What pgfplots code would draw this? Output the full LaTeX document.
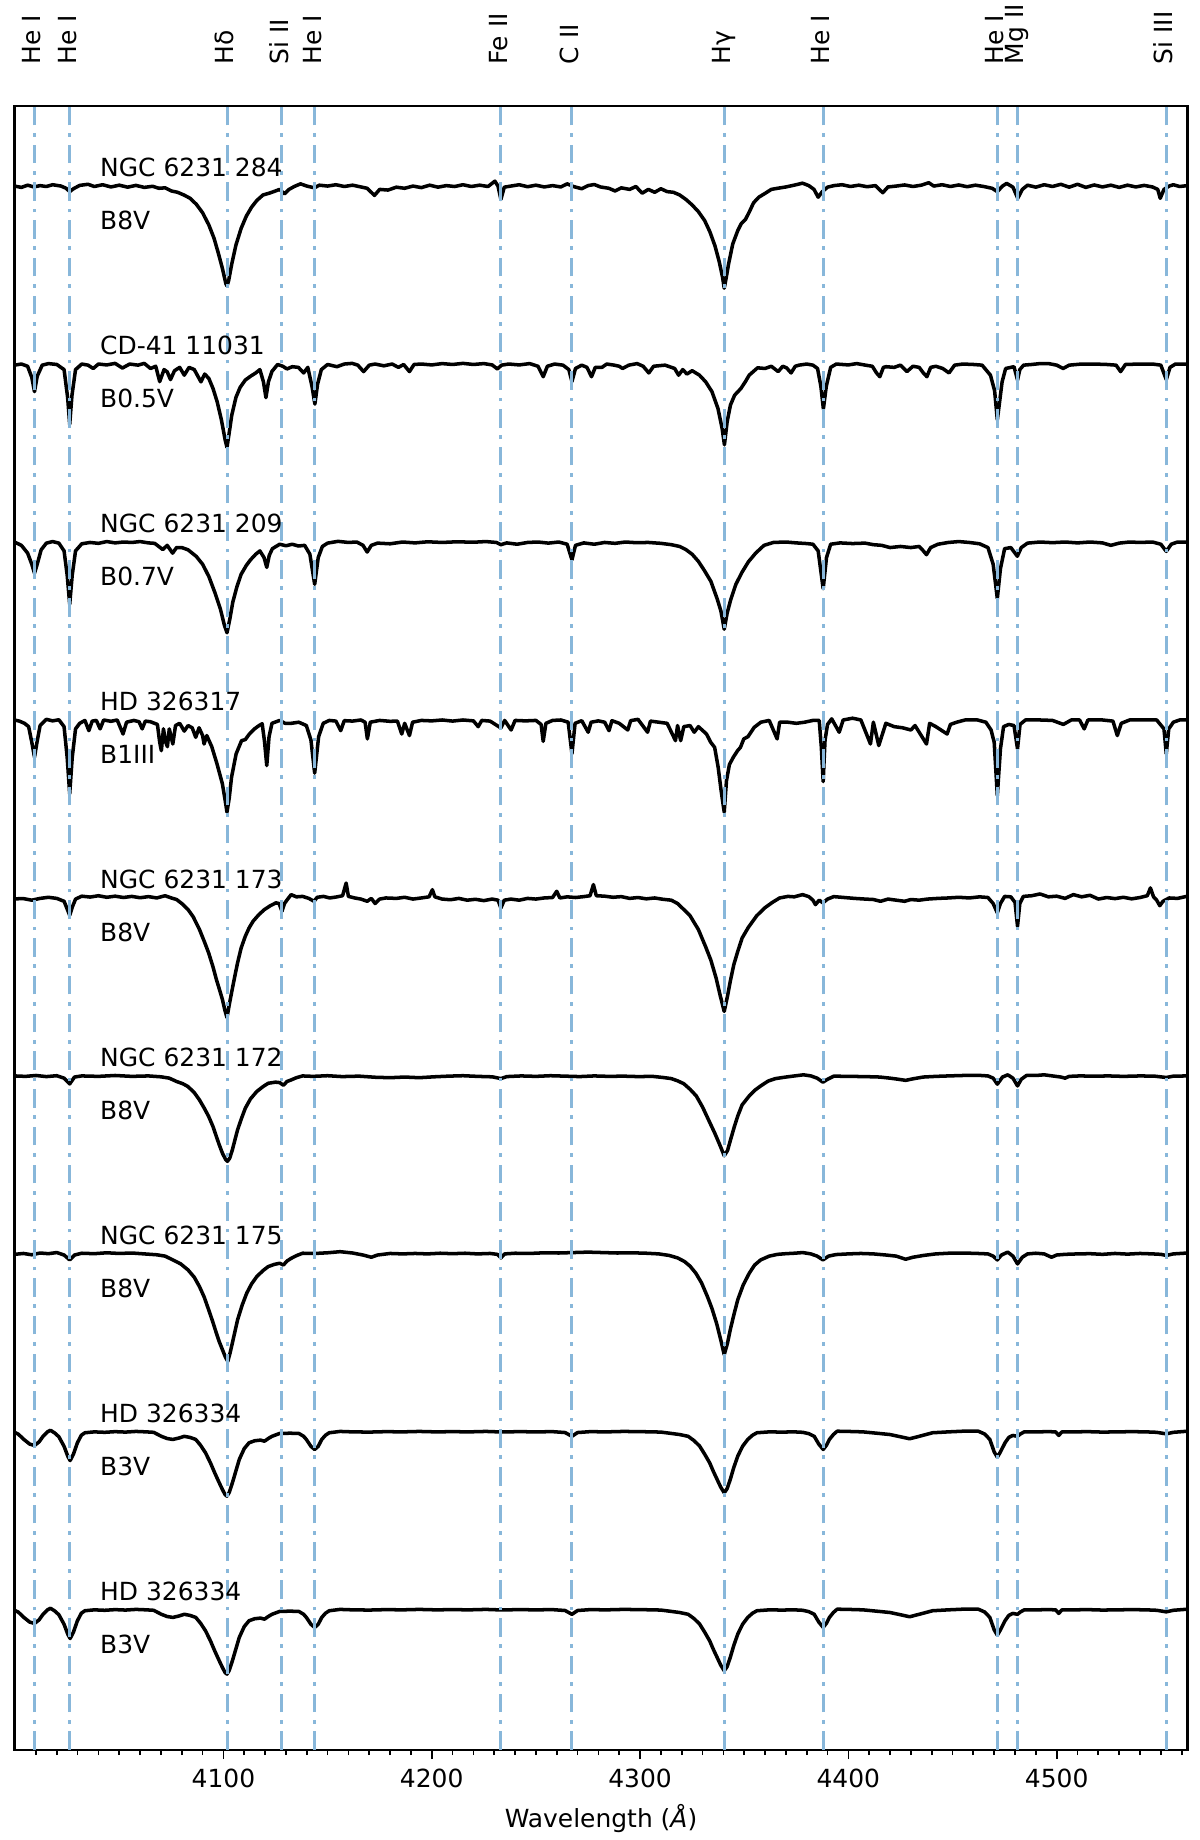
\documentclass[border=0pt]{standalone}
\usepackage{fontspec}
\setmainfont{DejaVu Sans}
\setsansfont{DejaVu Sans}
\usepackage{pgfplots}
\usepackage{pgfplotstable}
\pgfplotsset{compat=1.18}

\definecolor{linecol}{RGB}{136,183,218}

\tikzset{
  spec/.style={black, line width=1.0pt, line join=round},
  vline/.style={linecol, line width=0.85pt, dash pattern=on 5.3pt off 2.2pt on 1.05pt off 2.2pt},
  lbl/.style={font=\fontsize{7.1pt}{8.5pt}\selectfont, inner sep=0pt, anchor=west},
  toplbl/.style={font=\fontsize{7.1pt}{8.5pt}\selectfont, inner sep=0pt, rotate=90, anchor=west, text height=0.76em, text depth=0.24em},
}

% normalised spectra (wavelength in A, flux)
\pgfplotstableread[row sep=\\]{
wl f\\
3999.7 1.000\\ 4003 0.994\\ 4006 1.004\\ 4009 0.996\\ 4012 1.002\\ 4015 0.998\\ 4018 1.006\\ 4022 1.000\\
4024.5 0.990\\ 4026.2 0.975\\ 4028 0.988\\ 4031 1.003\\ 4035 1.008\\ 4038 0.998\\ 4042 1.006\\ 4046 0.996\\
4050 1.004\\ 4054 0.995\\ 4058 1.003\\ 4062 0.994\\ 4066 0.999\\ 4069 0.990\\ 4072 0.992\\ 4075 0.978\\
4078 0.972\\ 4081 0.960\\ 4084 0.945\\ 4087 0.918\\ 4090 0.880\\ 4093 0.825\\ 4095.5 0.765\\ 4097.5 0.700\\
4099.5 0.630\\ 4101.2 0.560\\ 4101.7 0.551\\ 4102.5 0.575\\ 4104 0.650\\ 4106 0.735\\ 4108.5 0.810\\ 4111 0.865\\
4113.5 0.905\\ 4116 0.935\\ 4119 0.960\\ 4122 0.968\\ 4125 0.978\\ 4127 0.985\\ 4129.3 0.965\\ 4131.5 0.985\\
4134 0.998\\ 4137 1.010\\ 4140 1.000\\ 4143.7 0.992\\ 4146 1.004\\ 4150 1.000\\ 4154 1.006\\ 4158 0.998\\
4162 1.004\\ 4166 0.996\\ 4169 0.990\\ 4172.5 0.958\\ 4175 0.985\\ 4179 0.982\\ 4183 0.995\\ 4187 0.990\\
4191 1.000\\ 4195 0.993\\ 4199 1.004\\ 4203 0.995\\ 4207 1.002\\ 4211 0.998\\ 4215 1.006\\ 4219 0.998\\
4223 1.004\\ 4227 0.998\\ 4230.3 1.022\\ 4231.8 1.000\\ 4233.2 0.940\\ 4234.8 0.995\\ 4238 1.000\\ 4242 1.006\\
4246 0.997\\ 4250 1.004\\ 4254 0.996\\ 4258 1.002\\ 4262 0.996\\ 4265 1.010\\ 4268 0.998\\ 4272 0.988\\
4275 1.002\\ 4278 1.007\\ 4281 0.996\\ 4285 0.990\\ 4288 0.978\\ 4291 0.992\\ 4295 0.985\\ 4298 0.998\\
4301 0.968\\ 4304 0.985\\ 4307 0.972\\ 4310 0.988\\ 4313 0.975\\ 4316 0.972\\ 4319 0.960\\ 4322 0.940\\
4325 0.915\\ 4328 0.885\\ 4331 0.845\\ 4333.5 0.795\\ 4336 0.730\\ 4338 0.660\\ 4339.6 0.590\\ 4340.4 0.541\\
4341.2 0.580\\ 4342.5 0.650\\ 4344.5 0.740\\ 4346.9 0.800\\ 4348.5 0.830\\ 4350.6 0.850\\ 4352.5 0.885\\ 4354.5 0.925\\
4357 0.950\\ 4360 0.967\\ 4363 0.985\\ 4366 0.990\\ 4370 0.996\\ 4374 1.004\\ 4378 1.013\\ 4381 1.002\\
4383.5 0.985\\ 4385.5 0.950\\ 4387.5 0.975\\ 4390 0.995\\ 4393 1.002\\ 4397 1.006\\ 4401 0.998\\ 4405 1.004\\
4409 0.997\\ 4413 1.002\\ 4416.5 0.970\\ 4419 0.996\\ 4423 1.000\\ 4427 1.005\\ 4431 0.998\\ 4435 1.004\\
4438.6 1.015\\ 4441 1.000\\ 4445 1.006\\ 4449 0.998\\ 4453 1.005\\ 4457 0.997\\ 4461 1.004\\ 4465 0.998\\
4469 0.990\\ 4471.5 0.975\\ 4474 1.000\\ 4476 1.012\\ 4479 0.995\\ 4481.3 0.945\\ 4483.5 0.985\\ 4486 1.004\\
4490 0.995\\ 4494 1.006\\ 4498 0.998\\ 4502 1.008\\ 4506 0.995\\ 4510 1.008\\ 4514 0.994\\ 4518 1.005\\
4522 0.996\\ 4526 1.004\\ 4530 0.994\\ 4534 1.004\\ 4538 0.996\\ 4542 1.003\\ 4546 0.996\\ 4548.5 0.985\\
4549.7 0.945\\ 4551.5 0.985\\ 4554 1.000\\ 4556 1.006\\ 4559 0.998\\ 4562.8 1.002\\
}\sA

\pgfplotstableread[row sep=\\]{
wl f\\
3999.7 0.995\\ 4003 1.000\\ 4006 0.990\\ 4008 0.940\\ 4009.3 0.876\\ 4010.6 0.945\\ 4013 0.995\\ 4016 1.002\\
4020 0.998\\ 4023.5 0.975\\ 4025.2 0.850\\ 4026.2 0.729\\ 4027.3 0.860\\ 4029 0.975\\ 4032 1.000\\ 4035 0.995\\
4037.5 0.980\\ 4040 1.000\\ 4044 0.996\\ 4048 1.003\\ 4051.5 0.982\\ 4055 1.000\\ 4059 0.995\\ 4062 1.003\\
4065 0.980\\ 4067.5 0.990\\ 4069.4 0.921\\ 4071.5 0.975\\ 4073 0.965\\ 4074.6 0.930\\ 4076.5 0.970\\ 4079 0.985\\
4081.2 0.950\\ 4083.5 0.985\\ 4086 0.975\\ 4089.2 0.920\\ 4091 0.955\\ 4093 0.935\\ 4095 0.890\\ 4097 0.830\\
4099 0.750\\ 4100.8 0.660\\ 4101.7 0.625\\ 4102.6 0.680\\ 4104 0.770\\ 4106 0.850\\ 4108 0.895\\ 4110.5 0.928\\
4113 0.945\\ 4115.5 0.960\\ 4117.5 0.975\\ 4119.2 0.920\\ 4120.4 0.849\\ 4121.6 0.920\\ 4123.3 0.967\\ 4126 0.998\\
4128.5 0.990\\ 4130.5 0.978\\ 4133 0.988\\ 4136 0.985\\ 4138.5 0.960\\ 4140.5 0.985\\ 4142.5 0.900\\ 4143.9 0.820\\
4145.2 0.910\\ 4147 0.975\\ 4150 0.998\\ 4154.5 0.988\\ 4158 1.000\\ 4161.8 1.003\\ 4164.5 0.995\\ 4167.3 0.966\\
4170 0.995\\ 4172.8 1.000\\ 4177 0.992\\ 4181 1.000\\ 4184 0.985\\ 4186.5 0.998\\ 4189.3 0.966\\ 4191.5 0.998\\
4195 1.000\\ 4200 0.996\\ 4205 1.002\\ 4210 0.998\\ 4215 1.003\\ 4220 0.998\\ 4225 1.002\\ 4229 0.996\\
4231.5 0.978\\ 4233.5 0.995\\ 4237 1.000\\ 4242 0.996\\ 4247 1.002\\ 4251 0.990\\ 4253.5 0.943\\ 4255.5 0.990\\
4259 1.000\\ 4263 0.995\\ 4265.8 0.975\\ 4267.3 0.921\\ 4269 0.980\\ 4272 0.995\\ 4274.5 0.985\\ 4276.7 0.943\\
4278.5 0.985\\ 4281.7 0.985\\ 4284 1.000\\ 4287.6 0.995\\ 4290 0.990\\ 4291.6 0.980\\ 4294.6 0.995\\ 4298.6 1.002\\
4301.5 0.990\\ 4304.2 0.960\\ 4306.5 0.990\\ 4308.6 0.992\\ 4312 0.995\\ 4316.6 0.980\\ 4318.5 0.950\\ 4320.5 0.975\\
4322.5 0.955\\ 4325 0.970\\ 4328.5 0.950\\ 4331.5 0.920\\ 4334.5 0.876\\ 4337.4 0.800\\ 4339.4 0.710\\ 4340.5 0.637\\
4341.8 0.740\\ 4343.4 0.816\\ 4345.4 0.860\\ 4348.4 0.890\\ 4350.5 0.920\\ 4352.4 0.950\\ 4356.4 0.983\\ 4360 0.980\\
4363 0.990\\ 4366.3 0.966\\ 4368.5 0.990\\ 4370.3 0.983\\ 4372.5 0.960\\ 4374.5 0.990\\ 4376.3 0.995\\ 4380 1.000\\
4383 0.995\\ 4385.2 0.980\\ 4386.8 0.900\\ 4388 0.798\\ 4389.4 0.900\\ 4391.5 0.985\\ 4394.2 1.000\\ 4400 0.996\\
4404 1.002\\ 4408.2 0.995\\ 4411.5 0.990\\ 4413.5 0.960\\ 4415.1 0.943\\ 4416.8 0.985\\ 4418.1 0.988\\ 4422 0.985\\
4425 0.995\\ 4428.1 0.966\\ 4431 0.990\\ 4434 0.985\\ 4436 0.960\\ 4437.7 0.943\\ 4439.5 0.985\\ 4442 0.990\\
4445.3 0.980\\ 4448.3 0.960\\ 4451 0.995\\ 4455 1.000\\ 4460 0.998\\ 4464.2 0.995\\ 4468.2 0.950\\ 4470.2 0.880\\
4471.5 0.749\\ 4472.6 0.830\\ 4473.8 0.920\\ 4475.5 0.980\\ 4479.5 0.988\\ 4480.3 0.960\\ 4481.2 0.928\\ 4482.3 0.975\\
4484.1 0.995\\ 4488 0.998\\ 4492 1.002\\ 4496.1 1.002\\ 4500 0.995\\ 4503.1 0.980\\ 4506 0.995\\ 4512 1.000\\
4518 1.000\\ 4524 0.998\\ 4528.5 0.995\\ 4530.7 0.966\\ 4533 0.998\\ 4540 1.000\\ 4546 1.000\\ 4550 0.995\\
4552.6 0.930\\ 4554.4 0.985\\ 4557 1.000\\ 4562.8 1.000\\
}\sB

\pgfplotstableread[row sep=\\]{
wl f\\
3999.7 1.000\\ 4003 0.985\\ 4006 0.950\\ 4008 0.900\\ 4009.3 0.860\\ 4010.6 0.900\\ 4012.5 0.965\\ 4015 0.995\\
4018 1.002\\ 4021 0.995\\ 4023.5 0.960\\ 4025 0.850\\ 4026.2 0.720\\ 4027.4 0.850\\ 4029 0.960\\ 4032 0.992\\
4036 0.998\\ 4040 0.994\\ 4044 1.002\\ 4048 0.996\\ 4052 1.000\\ 4056 0.998\\ 4060 1.002\\ 4064 0.996\\
4067 0.994\\ 4070.9 0.966\\ 4073 0.985\\ 4075.6 0.950\\ 4077.5 0.975\\ 4080 0.975\\ 4083 0.965\\ 4087 0.935\\
4090 0.900\\ 4093 0.845\\ 4096 0.770\\ 4098.5 0.700\\ 4100.5 0.625\\ 4101.7 0.592\\ 4103 0.650\\ 4104.5 0.730\\
4106.5 0.800\\ 4108.5 0.855\\ 4111 0.895\\ 4113 0.920\\ 4115.5 0.945\\ 4117.5 0.960\\ 4119.5 0.930\\ 4120.8 0.886\\
4122 0.940\\ 4123.5 0.970\\ 4127 0.990\\ 4130 0.983\\ 4133 0.990\\ 4136 0.982\\ 4139 0.985\\ 4141.5 0.945\\
4143.8 0.810\\ 4145.5 0.930\\ 4147.5 0.980\\ 4150 0.995\\ 4155 1.003\\ 4160 0.998\\ 4164 1.000\\ 4167 0.985\\
4169 0.955\\ 4171 0.985\\ 4174 0.995\\ 4180 0.992\\ 4186 1.000\\ 4192 0.996\\ 4198 1.001\\ 4205 0.998\\
4212 1.001\\ 4220 0.999\\ 4226 1.002\\ 4231 0.998\\ 4233.2 0.988\\ 4236 0.996\\ 4241 0.990\\ 4246 0.998\\
4251 1.000\\ 4256 0.995\\ 4261 1.000\\ 4265 0.990\\ 4267.3 0.920\\ 4269 0.985\\ 4273 0.996\\ 4278 0.990\\
4283 0.998\\ 4288 0.994\\ 4293 1.000\\ 4298 0.997\\ 4304 0.998\\ 4310 0.994\\ 4315 0.988\\ 4319 0.980\\
4322 0.966\\ 4325 0.945\\ 4328 0.913\\ 4331 0.870\\ 4334 0.823\\ 4337 0.745\\ 4338.8 0.690\\ 4340.4 0.608\\
4341.8 0.680\\ 4343.5 0.740\\ 4346 0.810\\ 4349 0.865\\ 4352 0.911\\ 4355.5 0.950\\ 4359.5 0.985\\ 4364 0.998\\
4370 1.000\\ 4375 0.996\\ 4380 0.993\\ 4383 0.990\\ 4385.5 0.960\\ 4387.9 0.790\\ 4389.5 0.930\\ 4391.5 0.990\\
4396 0.996\\ 4402 0.993\\ 4408 0.995\\ 4412 0.988\\ 4416 0.985\\ 4420 0.975\\ 4425 0.980\\ 4430 0.975\\
4434 0.980\\ 4436 0.960\\ 4437.5 0.943\\ 4439.5 0.975\\ 4443 0.990\\ 4448 0.998\\ 4453 1.002\\ 4458 0.998\\
4463 0.992\\ 4467 0.975\\ 4469.5 0.900\\ 4471.5 0.746\\ 4473 0.880\\ 4475 0.970\\ 4478 0.975\\ 4481.1 0.936\\
4483 0.975\\ 4486 0.995\\ 4492 1.000\\ 4498 0.997\\ 4504 1.000\\ 4510 0.996\\ 4516 1.000\\ 4522 0.996\\
4526 0.985\\ 4530 0.995\\ 4535 1.000\\ 4540 0.998\\ 4546 1.000\\ 4550 0.990\\ 4552.6 0.958\\ 4555 0.990\\
4558 1.000\\ 4562.8 1.000\\
}\sC

\pgfplotstableread[row sep=\\]{
wl f\\
3999.7 1.000\\ 4002 0.995\\ 4004.5 0.985\\ 4006.5 0.970\\ 4008 0.900\\ 4009.3 0.833\\ 4010.5 0.900\\ 4012 0.975\\
4015 1.003\\ 4018 0.996\\ 4021 1.001\\ 4023.5 0.970\\ 4025 0.830\\ 4026.2 0.668\\ 4027.4 0.830\\ 4029 0.960\\
4031 0.985\\ 4033.5 0.998\\ 4035.4 0.952\\ 4037 0.995\\ 4039 0.998\\ 4040.8 0.960\\ 4042.5 1.000\\ 4046 0.994\\
4049 1.000\\ 4051.8 0.937\\ 4053.5 0.990\\ 4057 0.998\\ 4059.5 0.992\\ 4061 0.960\\ 4062.5 0.995\\ 4065 0.992\\
4068.3 0.980\\ 4069.4 0.900\\ 4070.2 0.862\\ 4071.2 0.960\\ 4072.3 0.900\\ 4073.1 0.880\\ 4074 0.960\\ 4075.7 0.892\\
4077 0.975\\ 4079 0.985\\ 4081.2 0.950\\ 4083 0.975\\ 4085 0.965\\ 4086.7 0.922\\ 4088.3 0.965\\ 4090 0.930\\
4090.7 0.892\\ 4092 0.930\\ 4094.4 0.880\\ 4096.9 0.803\\ 4099.5 0.713\\ 4100.8 0.640\\ 4101.7 0.586\\ 4102.8 0.650\\
4103.9 0.743\\ 4106.1 0.848\\ 4108.7 0.907\\ 4110.5 0.912\\ 4112.3 0.935\\ 4114.9 0.960\\ 4117.1 0.975\\ 4118.6 0.983\\
4119.7 0.905\\ 4120.8 0.795\\ 4121.9 0.925\\ 4123.3 0.985\\ 4127 0.998\\ 4129.6 0.985\\ 4132.5 0.985\\ 4136.2 0.990\\
4139.8 0.975\\ 4142 0.910\\ 4143.8 0.761\\ 4145.7 0.925\\ 4147.9 0.985\\ 4150.8 0.998\\ 4154 0.995\\ 4156.3 0.952\\
4158 0.997\\ 4162 0.995\\ 4166 1.000\\ 4168 0.990\\ 4169.1 0.915\\ 4170.5 0.990\\ 4175 0.998\\ 4180 0.994\\
4183.5 0.995\\ 4185.6 0.937\\ 4187 0.985\\ 4189.3 0.930\\ 4190.8 0.990\\ 4195 0.998\\ 4200 0.996\\ 4205 1.000\\
4210 0.995\\ 4215 1.000\\ 4220 0.996\\ 4222.3 0.970\\ 4224 0.998\\ 4228 0.995\\ 4233.2 0.964\\ 4235 0.998\\
4238.1 0.955\\ 4240 0.998\\ 4245 0.996\\ 4250 0.998\\ 4252.5 0.980\\ 4253.5 0.904\\ 4254.8 0.985\\ 4258 0.998\\
4262 1.000\\ 4265.5 0.990\\ 4267.3 0.848\\ 4268.8 0.985\\ 4272 0.997\\ 4275.1 0.945\\ 4276.5 0.990\\ 4280 0.996\\
4283 0.990\\ 4285.1 0.952\\ 4286.5 0.997\\ 4290 0.985\\ 4294.1 0.955\\ 4295.5 0.997\\ 4299 1.003\\ 4303.6 0.945\\
4305 0.995\\ 4309 0.990\\ 4313 0.985\\ 4317 0.907\\ 4318 0.975\\ 4319.5 0.907\\ 4321 0.970\\ 4324 0.975\\
4326 0.945\\ 4328 0.970\\ 4331.9 0.937\\ 4333.9 0.900\\ 4335.8 0.877\\ 4337.5 0.787\\ 4338.9 0.683\\ 4340.4 0.586\\
4341.5 0.728\\ 4342.9 0.800\\ 4344.8 0.833\\ 4346.8 0.862\\ 4348.2 0.877\\ 4349.8 0.915\\ 4351.8 0.925\\ 4354.8 0.967\\
4358 0.990\\ 4362 0.998\\ 4365.8 0.915\\ 4367 0.990\\ 4371 0.990\\ 4375 0.985\\ 4379 0.990\\ 4383 0.998\\
4386 0.998\\ 4387 0.880\\ 4387.9 0.723\\ 4388.8 0.910\\ 4390 0.980\\ 4392 1.005\\ 4395.6 0.945\\ 4397.5 1.000\\
4402 1.008\\ 4406 1.000\\ 4410.6 0.892\\ 4412 0.990\\ 4414.6 0.885\\ 4415.6 0.915\\ 4418 0.985\\ 4422 0.970\\
4426 0.965\\ 4430 0.955\\ 4432 0.975\\ 4437.5 0.892\\ 4439 0.985\\ 4442 0.970\\ 4447.4 0.937\\ 4449 0.980\\
4452 0.990\\ 4456 1.000\\ 4462 1.000\\ 4466 0.990\\ 4468.5 0.955\\ 4470 0.900\\ 4471.5 0.660\\ 4473 0.870\\
4474.5 0.970\\ 4477 0.980\\ 4479.5 0.975\\ 4481.2 0.870\\ 4482.4 0.980\\ 4485 1.000\\ 4492 1.000\\ 4498 0.998\\
4503.2 0.980\\ 4507 1.000\\ 4511 1.000\\ 4513.2 0.960\\ 4515 1.000\\ 4522 1.000\\ 4527 0.995\\ 4529.1 0.930\\
4531 0.985\\ 4535 1.000\\ 4542 1.000\\ 4548 1.000\\ 4551.5 0.960\\ 4552.6 0.848\\ 4553.8 0.960\\ 4556 0.990\\
4559 1.000\\ 4562.8 1.000\\
}\sD

\pgfplotstableread[row sep=\\]{
wl f\\
3999.7 0.996\\ 4004 0.997\\ 4008 0.990\\ 4012 0.998\\ 4016 1.003\\ 4020 0.998\\ 4023.5 0.985\\ 4025 0.950\\
4026.2 0.922\\ 4027.5 0.960\\ 4029 0.995\\ 4032 1.008\\ 4036 1.004\\ 4040 1.010\\ 4044 1.003\\ 4048 1.008\\
4052 1.002\\ 4056 1.007\\ 4060 1.001\\ 4064 1.006\\ 4068 1.000\\ 4072 1.010\\ 4075 1.000\\ 4077.5 0.993\\
4080 0.975\\ 4083 0.948\\ 4085.5 0.915\\ 4088.5 0.858\\ 4091 0.800\\ 4092.9 0.753\\ 4095 0.690\\ 4096.6 0.634\\
4098.2 0.585\\ 4099.5 0.544\\ 4100.7 0.495\\ 4101.7 0.462\\ 4102.8 0.520\\ 4103.9 0.574\\ 4105.5 0.650\\ 4106.8 0.709\\
4108.5 0.775\\ 4110.5 0.828\\ 4112.3 0.865\\ 4114.2 0.895\\ 4117 0.925\\ 4119.7 0.948\\ 4122.5 0.965\\ 4125.2 0.978\\
4126.7 0.975\\ 4128.1 0.940\\ 4129.3 0.975\\ 4130.7 0.993\\ 4132.5 1.015\\ 4135 1.005\\ 4138 1.007\\ 4141 0.998\\
4143.5 0.985\\ 4145 1.003\\ 4148 1.007\\ 4151 1.000\\ 4154 1.004\\ 4157.2 1.010\\ 4158.9 1.067\\ 4160 1.007\\
4163 1.000\\ 4166 0.995\\ 4169 0.985\\ 4171 0.998\\ 4172.8 0.975\\ 4175 0.995\\ 4178 1.000\\ 4183 0.998\\
4187 1.003\\ 4191 0.995\\ 4195 1.000\\ 4198.7 1.005\\ 4200.3 1.037\\ 4201.5 1.005\\ 4205 0.995\\ 4209 0.992\\
4213 0.998\\ 4217 0.990\\ 4221 0.994\\ 4225 0.988\\ 4229 0.995\\ 4231.8 0.990\\ 4233.2 0.955\\ 4234.8 0.990\\
4238 0.995\\ 4242 0.990\\ 4246 0.998\\ 4250 0.995\\ 4254 1.000\\ 4258 1.002\\ 4260 1.030\\ 4261.5 1.000\\
4265 1.005\\ 4269 1.002\\ 4273 1.006\\ 4276 1.010\\ 4277.6 1.060\\ 4279 1.010\\ 4283 1.008\\ 4287 1.003\\
4291 1.006\\ 4295 0.998\\ 4299 1.002\\ 4303 0.996\\ 4307 1.000\\ 4311 0.994\\ 4315 0.990\\ 4318 0.975\\
4321 0.948\\ 4324 0.920\\ 4328 0.858\\ 4331.5 0.780\\ 4334 0.720\\ 4336.5 0.640\\ 4338.5 0.560\\ 4340.4 0.490\\
4342 0.560\\ 4343.3 0.625\\ 4345 0.700\\ 4346.9 0.760\\ 4349 0.820\\ 4352 0.868\\ 4356 0.920\\ 4359.8 0.955\\
4363.5 0.980\\ 4367 1.000\\ 4371 1.007\\ 4374 1.005\\ 4378 1.015\\ 4381 1.006\\ 4383 0.990\\ 4384.2 0.970\\
4386 0.990\\ 4387.8 0.978\\ 4390 0.995\\ 4393 1.006\\ 4398 1.002\\ 4403 0.998\\ 4408 0.995\\ 4412 0.993\\
4415.5 0.985\\ 4419 0.995\\ 4423 0.990\\ 4427 0.985\\ 4430 0.993\\ 4434 0.990\\ 4438 0.995\\ 4443 0.998\\
4448 1.000\\ 4453 1.003\\ 4458 1.000\\ 4463 1.005\\ 4467 1.002\\ 4469.5 0.975\\ 4471.5 0.933\\ 4473 0.975\\
4475 1.007\\ 4478 1.005\\ 4480 0.980\\ 4481.2 0.873\\ 4482.3 0.975\\ 4484 1.007\\ 4488 1.010\\ 4492 1.018\\
4496 1.005\\ 4500 1.008\\ 4504 0.998\\ 4508 1.015\\ 4512 1.005\\ 4516 1.012\\ 4520 0.995\\ 4524 1.002\\
4528 0.997\\ 4532 1.003\\ 4536 0.996\\ 4540 1.002\\ 4543.5 1.010\\ 4545 1.045\\ 4546.5 1.005\\ 4548 0.990\\
4549.5 0.965\\ 4551 0.985\\ 4554 1.000\\ 4558 0.998\\ 4562.8 1.008\\
}\sE

\pgfplotstableread[row sep=\\]{
wl f\\
3999.7 1.000\\ 4005 0.998\\ 4010 1.002\\ 4015 0.997\\ 4020 1.001\\ 4023.5 0.990\\ 4026.2 0.964\\ 4028.5 0.995\\
4032 1.000\\ 4040 0.998\\ 4048 1.002\\ 4056 0.998\\ 4064 1.000\\ 4070 0.996\\ 4074 0.990\\ 4077.5 0.975\\
4080.5 0.965\\ 4083 0.952\\ 4086 0.925\\ 4088.5 0.892\\ 4090.8 0.855\\ 4092.9 0.818\\ 4095 0.772\\ 4096.6 0.728\\
4098 0.690\\ 4099.5 0.653\\ 4101 0.625\\ 4101.9 0.616\\ 4103 0.630\\ 4104.3 0.668\\ 4105.5 0.712\\ 4106.8 0.758\\
4108.7 0.810\\ 4110.5 0.855\\ 4113 0.897\\ 4116 0.930\\ 4119 0.952\\ 4121.5 0.967\\ 4125 0.972\\ 4127 0.970\\
4128.8 0.958\\ 4130.5 0.975\\ 4132.5 0.982\\ 4135 0.992\\ 4138 1.000\\ 4143 0.998\\ 4150 1.001\\ 4157 0.997\\
4165 0.999\\ 4173 0.994\\ 4180 0.992\\ 4187 0.995\\ 4194 0.992\\ 4201 0.996\\ 4208 0.999\\ 4215 1.001\\
4222 0.998\\ 4229 0.996\\ 4233.2 0.988\\ 4236 0.997\\ 4243 1.000\\ 4250 0.998\\ 4257 1.001\\ 4264 0.999\\
4271 0.997\\ 4278 1.000\\ 4285 0.998\\ 4292 0.999\\ 4299 0.997\\ 4306 0.998\\ 4311 0.993\\ 4315 0.988\\
4318 0.978\\ 4321 0.965\\ 4324 0.940\\ 4327 0.910\\ 4330 0.860\\ 4333 0.800\\ 4336 0.740\\ 4338.5 0.685\\
4340.4 0.641\\ 4342 0.665\\ 4343.5 0.715\\ 4345.2 0.770\\ 4346.9 0.820\\ 4349 0.870\\ 4352.4 0.910\\ 4355 0.935\\
4357.9 0.955\\ 4361.5 0.977\\ 4365 0.988\\ 4370 0.995\\ 4375 1.001\\ 4378.5 1.005\\ 4382 1.000\\ 4385 0.990\\
4387.8 0.972\\ 4390 0.985\\ 4393 0.999\\ 4400 0.998\\ 4408 0.997\\ 4415 0.995\\ 4420 0.990\\ 4424 0.985\\
4427.5 0.980\\ 4431 0.987\\ 4436 0.995\\ 4442 0.998\\ 4448 1.000\\ 4455 1.002\\ 4462 1.003\\ 4467 1.000\\
4469.5 0.990\\ 4471.5 0.963\\ 4474 0.995\\ 4476.5 1.005\\ 4479 0.990\\ 4481.2 0.955\\ 4483 0.985\\ 4485.5 1.002\\
4490 1.002\\ 4494 1.005\\ 4498 1.000\\ 4502 0.995\\ 4504 0.990\\ 4506 0.998\\ 4511 1.000\\ 4518 0.999\\
4525 1.000\\ 4532 0.998\\ 4540 1.000\\ 4547 0.999\\ 4552.6 0.993\\ 4556 0.999\\ 4562.8 1.000\\
}\sF

\pgfplotstableread[row sep=\\]{
wl f\\
3999.7 0.998\\ 4004 1.002\\ 4008 0.996\\ 4012 1.004\\ 4016 1.001\\ 4020 1.006\\ 4023.5 0.995\\ 4026.2 0.973\\
4028.5 0.995\\ 4032 1.003\\ 4038 1.001\\ 4044 1.005\\ 4050 1.002\\ 4056 1.004\\ 4062 1.000\\ 4068 0.996\\
4072 0.990\\ 4075.7 0.973\\ 4079.5 0.955\\ 4083 0.928\\ 4086 0.895\\ 4088.5 0.853\\ 4090.8 0.805\\ 4092.9 0.749\\
4094.8 0.697\\ 4096.6 0.644\\ 4098 0.605\\ 4099.5 0.570\\ 4101 0.535\\ 4102.1 0.517\\ 4103.2 0.555\\ 4104.3 0.600\\
4105.5 0.650\\ 4106.8 0.704\\ 4109 0.770\\ 4111.2 0.824\\ 4113.5 0.865\\ 4116 0.898\\ 4119 0.925\\ 4121.5 0.943\\
4124.5 0.953\\ 4127 0.958\\ 4128.8 0.950\\ 4130.5 0.968\\ 4132.5 0.980\\ 4135 0.992\\ 4138 1.003\\ 4144 1.002\\
4150 1.005\\ 4156 1.010\\ 4162 1.004\\ 4167 0.995\\ 4171 0.985\\ 4174 0.995\\ 4180 1.002\\ 4186 1.000\\
4192 1.002\\ 4198 1.000\\ 4204 1.003\\ 4210 1.001\\ 4216 1.003\\ 4222 1.000\\ 4228 1.002\\ 4231.5 0.998\\
4233.2 0.982\\ 4235 1.000\\ 4240 1.003\\ 4247 1.002\\ 4254 1.005\\ 4261 1.004\\ 4268 1.006\\ 4275 1.008\\
4282 1.006\\ 4289 1.004\\ 4296 1.005\\ 4303 1.003\\ 4309 1.000\\ 4314 0.993\\ 4318 0.982\\ 4321.3 0.966\\
4324 0.945\\ 4326.8 0.913\\ 4329.5 0.870\\ 4332.3 0.809\\ 4334.5 0.755\\ 4336.7 0.689\\ 4338.7 0.615\\ 4340.4 0.547\\
4342 0.600\\ 4343.3 0.659\\ 4345 0.725\\ 4346.9 0.794\\ 4349.5 0.860\\ 4352.4 0.913\\ 4355 0.950\\ 4357.9 0.973\\
4362 0.990\\ 4366 0.998\\ 4370 1.001\\ 4374 1.003\\ 4378.1 1.006\\ 4382 1.000\\ 4385 0.990\\ 4387.8 0.973\\
4390.5 0.990\\ 4394 0.997\\ 4400 1.000\\ 4406 1.002\\ 4412 1.000\\ 4418 0.995\\ 4423 0.990\\ 4427.5 0.976\\
4431 0.985\\ 4436 0.993\\ 4442 1.000\\ 4448 1.003\\ 4455 1.004\\ 4462 1.002\\ 4467 1.000\\ 4469.5 0.990\\
4471.5 0.973\\ 4473.5 0.995\\ 4476.5 1.008\\ 4479 0.990\\ 4481.2 0.955\\ 4483.5 0.985\\ 4486 1.000\\ 4490 1.003\\
4494 1.000\\ 4497.5 0.985\\ 4500 0.995\\ 4504 0.998\\ 4510 1.000\\ 4516 1.001\\ 4522 0.998\\ 4528 1.002\\
4534 0.999\\ 4540 1.002\\ 4546 1.000\\ 4550 0.998\\ 4552.6 0.993\\ 4556 1.000\\ 4562.8 1.004\\
}\sG

\pgfplotstableread[row sep=\\]{
wl f\\
3999.7 0.998\\ 4001.5 0.990\\ 4004.2 0.966\\ 4007 0.945\\ 4009.3 0.939\\ 4011.5 0.955\\ 4013.4 0.980\\ 4015.5 1.000\\
4017 1.007\\ 4019 0.995\\ 4021 0.978\\ 4023.5 0.935\\ 4025.3 0.890\\ 4026.4 0.871\\ 4028 0.900\\ 4029.9 0.951\\
4031.8 0.985\\ 4033.5 0.996\\ 4038 1.000\\ 4043 0.998\\ 4048 1.001\\ 4053 0.999\\ 4058 1.002\\ 4063 1.000\\
4066.5 0.998\\ 4070.2 0.980\\ 4073 0.970\\ 4075.7 0.966\\ 4078.5 0.972\\ 4081.2 0.980\\ 4084 0.975\\ 4086.7 0.966\\
4089 0.940\\ 4091.4 0.906\\ 4093.8 0.860\\ 4095.8 0.816\\ 4097.8 0.775\\ 4099.5 0.741\\ 4100.8 0.718\\ 4101.7 0.711\\
4102.8 0.728\\ 4104.3 0.771\\ 4106 0.825\\ 4107.6 0.876\\ 4110 0.925\\ 4112.3 0.951\\ 4115 0.960\\ 4117.8 0.963\\
4119.7 0.958\\ 4121.5 0.970\\ 4123.3 0.980\\ 4127 0.993\\ 4132 0.994\\ 4136.2 0.993\\ 4138.5 0.980\\ 4139.8 0.966\\
4142 0.935\\ 4143.8 0.921\\ 4145.5 0.935\\ 4147.2 0.966\\ 4149 0.985\\ 4150.8 0.996\\ 4156 1.002\\ 4162 1.000\\
4170 0.999\\ 4178 1.001\\ 4186 1.000\\ 4194 1.002\\ 4202 1.000\\ 4210 1.001\\ 4218 1.000\\ 4226 1.002\\
4232 1.000\\ 4236 1.000\\ 4242 1.001\\ 4250 1.000\\ 4258 1.001\\ 4264 0.997\\ 4267.3 0.980\\ 4270 0.997\\
4276 1.001\\ 4284 1.000\\ 4292 1.002\\ 4300 1.001\\ 4306 1.000\\ 4310 0.999\\ 4315 0.993\\ 4319 0.988\\
4323.1 0.980\\ 4326 0.960\\ 4328.6 0.936\\ 4331 0.900\\ 4333.4 0.861\\ 4335.2 0.822\\ 4337 0.786\\ 4338.7 0.752\\
4340.4 0.726\\ 4341.8 0.745\\ 4343.3 0.786\\ 4345 0.840\\ 4346.9 0.891\\ 4349.2 0.935\\ 4351.7 0.966\\ 4354 0.985\\
4356.1 0.996\\ 4362 1.000\\ 4368 0.999\\ 4374 1.000\\ 4378.1 0.998\\ 4381 0.992\\ 4383.6 0.980\\ 4385.8 0.945\\
4387.9 0.921\\ 4389.5 0.940\\ 4390.9 0.966\\ 4392.8 0.988\\ 4394.6 1.003\\ 4400 1.002\\ 4407 1.000\\ 4414.7 0.993\\
4420 0.988\\ 4425 0.978\\ 4429.4 0.969\\ 4434 0.980\\ 4440.4 0.996\\ 4448 1.000\\ 4455 1.003\\ 4462.4 1.003\\
4465.5 0.990\\ 4467.9 0.966\\ 4470 0.910\\ 4471.5 0.886\\ 4473 0.910\\ 4475.2 0.951\\ 4477 0.975\\ 4478.9 0.984\\
4481.2 0.980\\ 4482.5 0.990\\ 4484.4 1.000\\ 4490 1.000\\ 4496 1.001\\ 4499.5 1.000\\ 4501 0.984\\ 4502.5 1.000\\
4508 1.000\\ 4515 1.001\\ 4522 0.999\\ 4529 1.000\\ 4536 1.001\\ 4543 1.000\\ 4548 0.998\\ 4552.6 0.991\\
4556 0.998\\ 4562.8 1.003\\
}\sH

\begin{document}
\fontsize{7.1pt}{8.5pt}\selectfont
\begin{tikzpicture}
\begin{axis}[
    name=ax, at={(0,0)}, anchor=south west,
    scale only axis, width=11.73cm, height=16.44cm,
    xmin=3999.7, xmax=4562.8, ymin=-6.03, ymax=1.36,
    clip=false,
    axis line style={line width=0.6pt},
    xtick={4100,4200,4300,4400,4500},
    minor xtick={4010,4020,...,4560},
    ytick=\empty,
    xtick pos=lower, tick align=outside,
    major tick length=0.09cm, minor tick length=0.05cm,
    tick style={black, line width=0.5pt},
    /pgf/number format/assume math mode=true,
    /pgf/number format/1000 sep={},
    xticklabel style={font=\fontsize{7.1pt}{8.5pt}\selectfont, inner sep=0pt, yshift=-2.6pt},
    xlabel={Wavelength (\textit{Å})},
    xlabel style={at={(axis description cs:0.5,0)}, anchor=center, yshift=-0.69cm, inner sep=0pt},
]
% spectra, each shifted down by 0.8
\addplot[spec] table[x=wl, y expr=\thisrow{f}] {\sA};
\addplot[spec] table[x=wl, y expr=\thisrow{f}-0.8] {\sB};
\addplot[spec] table[x=wl, y expr=\thisrow{f}-1.6] {\sC};
\addplot[spec] table[x=wl, y expr=\thisrow{f}-2.4] {\sD};
\addplot[spec] table[x=wl, y expr=\thisrow{f}-3.2] {\sE};
\addplot[spec] table[x=wl, y expr=\thisrow{f}-4.0] {\sF};
\addplot[spec] table[x=wl, y expr=\thisrow{f}-4.8] {\sG};
\addplot[spec] table[x=wl, y expr=\thisrow{f}-5.6] {\sH};
\addplot[spec] table[x=wl, y expr=\thisrow{f}-6.4] {\sH};

% line identifications, drawn from the bottom up
\addplot[vline] coordinates {(4009.26,-6.03) (4009.26,1.36)};
\addplot[vline] coordinates {(4026.19,-6.03) (4026.19,1.36)};
\addplot[vline] coordinates {(4101.74,-6.03) (4101.74,1.36)};
\addplot[vline] coordinates {(4128.07,-6.03) (4128.07,1.36)};
\addplot[vline] coordinates {(4143.76,-6.03) (4143.76,1.36)};
\addplot[vline] coordinates {(4233.17,-6.03) (4233.17,1.36)};
\addplot[vline] coordinates {(4267.26,-6.03) (4267.26,1.36)};
\addplot[vline] coordinates {(4340.47,-6.03) (4340.47,1.36)};
\addplot[vline] coordinates {(4387.93,-6.03) (4387.93,1.36)};
\addplot[vline] coordinates {(4471.48,-6.03) (4471.48,1.36)};
\addplot[vline] coordinates {(4481.13,-6.03) (4481.13,1.36)};
\addplot[vline] coordinates {(4552.62,-6.03) (4552.62,1.36)};

\node[toplbl] at (axis cs:4009.26,1.545) {He I};
\node[toplbl] at (axis cs:4026.19,1.545) {He I};
\node[toplbl] at (axis cs:4101.74,1.545) {Hδ};
\node[toplbl] at (axis cs:4128.07,1.545) {Si II};
\node[toplbl] at (axis cs:4143.76,1.545) {He I};
\node[toplbl] at (axis cs:4233.17,1.545) {Fe II};
\node[toplbl] at (axis cs:4267.26,1.545) {C II};
\node[toplbl] at (axis cs:4340.47,1.545) {Hγ};
\node[toplbl] at (axis cs:4387.93,1.545) {He I};
\node[toplbl] at (axis cs:4471.48,1.545) {He I};
\node[toplbl] at (axis cs:4481.13,1.545) {Mg II};
\node[toplbl] at (axis cs:4552.62,1.545) {Si III};

% star names and spectral types
\node[lbl] at (axis cs:4040.5,1.085) {NGC 6231 284};
\node[lbl] at (axis cs:4040.5,0.845) {B8V};
\node[lbl] at (axis cs:4040.5,0.285) {CD-41 11031};
\node[lbl] at (axis cs:4040.5,0.045) {B0.5V};
\node[lbl] at (axis cs:4040.5,-0.515) {NGC 6231 209};
\node[lbl] at (axis cs:4040.5,-0.755) {B0.7V};
\node[lbl] at (axis cs:4040.5,-1.315) {HD 326317};
\node[lbl] at (axis cs:4040.5,-1.555) {B1III};
\node[lbl] at (axis cs:4040.5,-2.115) {NGC 6231 173};
\node[lbl] at (axis cs:4040.5,-2.355) {B8V};
\node[lbl] at (axis cs:4040.5,-2.915) {NGC 6231 172};
\node[lbl] at (axis cs:4040.5,-3.155) {B8V};
\node[lbl] at (axis cs:4040.5,-3.715) {NGC 6231 175};
\node[lbl] at (axis cs:4040.5,-3.955) {B8V};
\node[lbl] at (axis cs:4040.5,-4.515) {HD 326334};
\node[lbl] at (axis cs:4040.5,-4.755) {B3V};
\node[lbl] at (axis cs:4040.5,-5.315) {HD 326334};
\node[lbl] at (axis cs:4040.5,-5.555) {B3V};
\end{axis}
\pgfresetboundingbox
\path ([shift={(-0.145cm,-0.90cm)}]ax.south west) rectangle ([shift={(0.125cm,1.06cm)}]ax.north east);
\end{tikzpicture}
\end{document}
